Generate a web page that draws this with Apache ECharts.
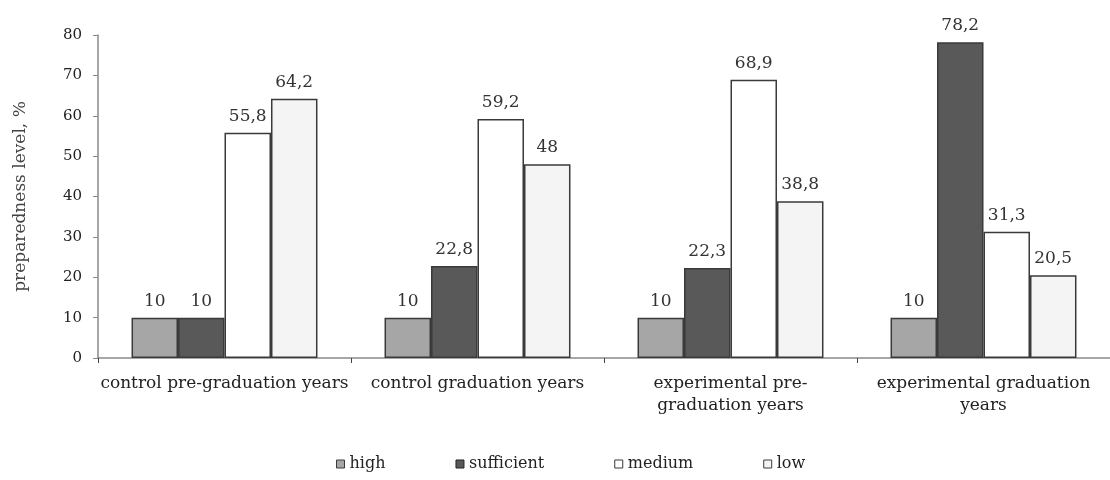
<!DOCTYPE html>
<html>
<head>
<meta charset="utf-8">
<script src="https://cdn.jsdelivr.net/npm/echarts@6/dist/echarts.min.js"></script>
<style>
  html, body { margin: 0; padding: 0; background: #ffffff; }
  #chart { width: 1110px; height: 480px; }
</style>
</head>
<body>
<div id="chart"></div>
<script>
// Groups and preparedness levels (%)
const categories = [
  'control pre-graduation years',
  'control graduation years',
  'experimental pre-\ngraduation years',
  'experimental graduation\nyears'
];
const high = [10, 10, 10, 10];
const sufficient = [10, 22.8, 22.3, 78.2];
const medium = [55.8, 59.2, 68.9, 31.3];
const low = [64.2, 48, 38.8, 20.5];
const yTicks = [0, 10, 20, 30, 40, 50, 60, 70, 80];

const FONT = '"DejaVu Serif", "Liberation Serif", serif';
const TEXT = '#222222';

function makeSeries(name, data, color) {
  return {
    name: name,
    type: 'bar',
    data: data,
    barGap: '0%',
    barCategoryGap: '26.5%',
    itemStyle: { color: color, borderColor: '#3a3a3a', borderWidth: 1.5 },
    label: {
      show: true,
      position: 'top',
      distance: 8,
      fontFamily: FONT,
      fontSize: 17,
      color: '#333333',
      formatter: p => String(p.value).replace('.', ',')
    }
  };
}

const chart = echarts.init(document.getElementById('chart'), null, { renderer: 'canvas' });
chart.setOption({
  animation: false,
  backgroundColor: '#ffffff',
  textStyle: { fontFamily: FONT },
  grid: { left: 98, right: 0, top: 35, bottom: 122, containLabel: false },
  legend: {
    bottom: 3,
    left: 331,
    itemWidth: 8,
    itemHeight: 8,
    itemGap: 70,
    icon: 'rect',
    textStyle: { fontFamily: FONT, fontSize: 16, color: TEXT },
    data: [
      { name: 'high', itemStyle: { borderColor: '#3a3a3a', borderWidth: 1 } },
      { name: 'sufficient', itemStyle: { borderColor: '#222', borderWidth: 1 } },
      { name: 'medium', itemStyle: { borderColor: '#3a3a3a', borderWidth: 1 } },
      { name: 'low', itemStyle: { borderColor: '#3a3a3a', borderWidth: 1 } }
    ]
  },
  xAxis: {
    type: 'category',
    data: categories,
    axisLine: { lineStyle: { color: '#8a8a8a', width: 1.5 } },
    axisTick: { show: true, alignWithLabel: false, length: 5, lineStyle: { color: '#444' } },
    axisLabel: {
      fontFamily: FONT, fontSize: 17, color: TEXT, margin: 15, lineHeight: 22,
      interval: 0
    }
  },
  yAxis: {
    type: 'value',
    min: yTicks[0],
    max: yTicks[yTicks.length - 1],
    interval: yTicks[1] - yTicks[0],
    name: 'preparedness level, %',
    nameLocation: 'middle',
    nameGap: 69,
    nameRotate: 90,
    nameTextStyle: { fontFamily: FONT, fontSize: 17, color: '#444' },
    axisLine: { show: true, lineStyle: { color: '#8a8a8a', width: 1.5 } },
    axisTick: { show: true, inside: false, length: 5, lineStyle: { color: '#8a8a8a' } },
    axisLabel: { fontFamily: FONT, fontSize: 15, color: TEXT, margin: 16 },
    splitLine: { show: false }
  },
  series: [
    makeSeries('high', high, '#a6a6a6'),
    makeSeries('sufficient', sufficient, '#595959'),
    makeSeries('medium', medium, '#ffffff'),
    makeSeries('low', low, '#f4f4f4')
  ]
});
</script>
</body>
</html>
